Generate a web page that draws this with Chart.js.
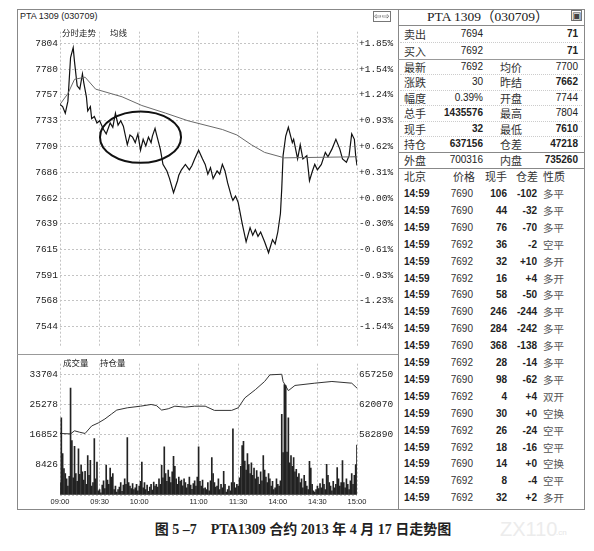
<!DOCTYPE html>
<html>
<head>
<meta charset="utf-8">
<script src="https://cdn.jsdelivr.net/npm/chart.js@4/dist/chart.umd.min.js"></script>
<style>
body{margin:0;background:#fff;width:594px;height:551px;position:relative;overflow:hidden;color:#222;font-family:"Liberation Sans",Arial,sans-serif}
.ln{position:absolute;background:#888}
canvas{position:absolute}
</style>
</head>
<body>
<div class="ln" style="left:17px;top:9px;width:568px;height:1px"></div>
<div class="ln" style="left:17px;top:509px;width:568px;height:1px"></div>
<div class="ln" style="left:17px;top:9px;width:1px;height:501px"></div>
<div class="ln" style="left:584px;top:9px;width:1px;height:501px"></div>
<div class="ln" style="left:398px;top:9px;width:1px;height:501px"></div>
<div class="ln" style="left:17px;top:354px;width:381px;height:1px;background:#999"></div>
<canvas id="pc" width="380" height="330" style="left:18px;top:24px"></canvas>
<canvas id="vc" width="380" height="154" style="left:18px;top:356px"></canvas>
<script>
// axis ticks
const timeLabels = ['09:00', '09:30', '10:00', '11:00', '11:30', '14:00', '14:30', '15:00'];
const timeTickMin = [0, 30, 60, 105, 135, 165, 195, 225];
const gridMin = [0, 30, 60, 105, 135, 195, 225];
const priceTicks = [7804, 7780, 7757, 7733, 7709, 7686, 7662, 7639, 7615, 7591, 7568, 7544];
const pctLabels = ['+1.85%', '+1.54%', '+1.24%', '+0.93%', '+0.62%', '+0.31%', '+0.00%', '-0.30%', '-0.61%', '-0.93%', '-1.23%', '-1.54%'];
const volTicks = [0, 8426, 16852, 25278, 33704];
const volTickLabels = ['', '8426', '16852', '25278', '33704'];
const oiTicks = [582890, 620070, 657250];

// minutes since 09:00 (trading minutes only)
const priceMin = [0, 2, 4, 6, 8, 10, 11, 13, 15, 17, 18, 20, 21, 23, 24, 26, 28, 30, 33, 35, 38, 40, 42, 44, 46, 48, 51, 53, 55, 57, 59, 61, 63, 65, 67, 69, 70, 72, 73, 76, 78, 81, 83, 86, 89, 90, 92, 95, 98, 100, 102, 105, 108, 110, 112, 114, 116, 119, 121, 123, 125, 127, 130, 131, 133, 135, 138, 141, 144, 146, 148, 150, 152, 155, 158, 161, 163, 165, 167, 168, 169, 171, 173, 176, 177, 180, 182, 184, 187, 189, 191, 193, 195, 198, 201, 203, 206, 209, 212, 214, 217, 219, 221, 223, 224, 225];
const price = [7748, 7746, 7740, 7751, 7791, 7800, 7787, 7765, 7762, 7776, 7768, 7755, 7742, 7746, 7735, 7737, 7731, 7733, 7725, 7721, 7731, 7727, 7740, 7729, 7733, 7728, 7711, 7720, 7718, 7713, 7721, 7706, 7716, 7710, 7718, 7713, 7719, 7726, 7721, 7707, 7693, 7687, 7680, 7667, 7678, 7683, 7688, 7693, 7688, 7692, 7698, 7706, 7698, 7693, 7684, 7690, 7680, 7687, 7684, 7693, 7687, 7676, 7663, 7660, 7664, 7658, 7639, 7622, 7635, 7628, 7633, 7627, 7631, 7622, 7612, 7624, 7620, 7631, 7648, 7671, 7701, 7719, 7727, 7713, 7716, 7698, 7711, 7698, 7701, 7678, 7686, 7693, 7688, 7693, 7704, 7700, 7707, 7716, 7707, 7698, 7695, 7701, 7721, 7716, 7701, 7692];
const avgMin = [0, 6, 11, 19, 27, 47, 62, 80, 97, 123, 134, 145, 155, 170, 225];
const avgPrice = [7748, 7758, 7771, 7773, 7762, 7755, 7747, 7740, 7733, 7725, 7720, 7711, 7704, 7699, 7700];

// volume per minute (index = minute)
const volume = [
  3500, 21600, 11600, 7400, 6000, 4500, 2500, 5200, 29900, 15200, 4800, 13600, 6000, 3800, 12900,
  5800, 8400, 6500, 4200, 6600, 3000, 11000, 5500, 9700, 2500, 3500, 15800, 4500, 9200, 1200,
  1500, 600, 2800, 4000, 1800, 8400, 4200, 3000, 7500, 5000, 6000, 1500, 2500, 800, 1500,
  2200, 3500, 1000, 2800, 4500, 3000, 16100, 3500, 2500, 1800, 3200, 1500, 2000, 3000, 1200,
  2500, 3800, 9200, 2000, 3500, 1500, 2800, 1000, 2200, 3000, 1400, 3600, 2500, 3000, 2200,
  4500, 3000, 8300, 4800, 13500, 6000, 3800, 7000, 5000, 3500, 6500, 10800, 8000, 4500, 3000,
  5000, 3800, 4200, 2600, 4500, 3500, 2000, 3000, 5000, 2800, 1600, 3200, 4000, 2500, 5000,
  13500, 3800, 2500, 4200, 1800, 2000, 1500, 3500, 1200, 4000, 10500, 6000, 3500, 2200, 2500,
  4500, 1500, 3000, 2000, 6600, 3000, 800, 1500, 2500, 1200, 3500, 18500, 3500, 2000, 3000,
  2500, 4800, 8000, 13800, 15000, 9500, 7000, 11600, 8500, 6000, 9000, 5500, 7500, 4500, 6800,
  5000, 3000, 6500, 4000, 11000, 7000, 5000, 3500, 6000, 4500, 2500, 3800, 1500, 2000, 4500,
  3000, 2500, 4000, 22600, 11900, 30900, 30600, 12000, 21600, 9000, 11000, 8000, 10500, 6500, 7200,
  5000, 6000, 3500, 4500, 2000, 5500, 3800, 2500, 1500, 9400, 7500, 3000, 1200, 800, 1500,
  2500, 1800, 3200, 2000, 4500, 3000, 1500, 8600, 5500, 3500, 2500, 1200, 3800, 2000, 3000,
  7700, 4500, 2500, 3500, 9600, 3500, 2000, 4500, 3000, 1500, 4000, 6000, 3000, 5500, 8500,
  14000
];
const oiMin = [0, 8, 11, 15, 19, 24, 29, 34, 39, 43, 51, 61, 69, 73, 77, 82, 87, 95, 102, 110, 117, 130, 135, 140, 148, 155, 159, 168, 169, 173, 178, 193, 206, 221, 225];
const oi = [584500, 584000, 587800, 586000, 584500, 593800, 597500, 602400, 608500, 613400, 616200, 618200, 620300, 619000, 613400, 615000, 618200, 617000, 618200, 618200, 613000, 613000, 616200, 628400, 638600, 648700, 656900, 657600, 648700, 637400, 643800, 646600, 648700, 646600, 640500];

// right-hand quote panel
const quoteName1 = ['卖出', '买入', '最新', '涨跌', '幅度', '总手', '现手', '持仓', '外盘'];
const quoteVal1 = ['7694', '7692', '7692', '30', '0.39%', '1435576', '32', '637156', '700316'];
const quoteName2 = ['', '', '均价', '昨结', '开盘', '最高', '最低', '仓差', '内盘'];
const quoteVal2 = ['71', '71', '7700', '7662', '7744', '7804', '7610', '47218', '735260'];
const tradeHead = ['北京', '价格', '现手', '仓差', '性质'];
const tradeTime = Array(19).fill('14:59');
const tradePrice = [7690, 7690, 7690, 7692, 7692, 7692, 7690, 7690, 7690, 7690, 7692, 7690, 7692, 7690, 7692, 7692, 7690, 7692, 7692];
const tradeVol = [106, 44, 76, 36, 32, 16, 58, 246, 284, 368, 28, 98, 4, 30, 26, 18, 14, 8, 32];
const tradeDiff = ['-102', '-32', '-70', '-2', '+10', '+4', '-50', '-244', '-242', '-138', '-14', '-62', '+4', '+0', '-24', '-16', '+0', '-4', '+2'];
const tradeType = ['多平', '多平', '多平', '空平', '多开', '多开', '多平', '多平', '多平', '多平', '多平', '多平', '双开', '空换', '空平', '空平', '空换', '空平', '多开'];

const MONO = '"Liberation Mono", "DejaVu Sans Mono", monospace';
const CJK = '"Noto Sans CJK SC", sans-serif';
const SANS = '"Liberation Sans", Arial, sans-serif';

function put(text, x, y, o = {}) {
  const d = document.createElement('div');
  d.textContent = text;
  d.style.position = 'absolute';
  d.style.whiteSpace = 'nowrap';
  d.style.font = o.font || ('10px ' + SANS);
  d.style.lineHeight = '14px';
  d.style.top = (y - 7) + 'px';
  if (o.align === 'right') d.style.right = (594 - x) + 'px';
  else if (o.align === 'center') { d.style.left = (x - 60) + 'px'; d.style.width = '120px'; d.style.textAlign = 'center'; }
  else d.style.left = x + 'px';
  if (o.color) d.style.color = o.color;
  document.body.appendChild(d);
  return d;
}
function hline(x, y, w, style) {
  const d = document.createElement('div');
  d.style.cssText = `position:absolute;left:${x}px;top:${y}px;width:${w}px;height:0;border-top:${style}`;
  document.body.appendChild(d);
}

// left panel texts
put('PTA 1309 (030709)', 20, 16, { font: '9px ' + SANS });
put('分时走势', 62, 32, { font: '8.5px ' + CJK });
put('均线', 110, 32, { font: '8.5px ' + CJK });
put('成交量', 63, 362, { font: '8.5px ' + CJK });
put('持仓量', 100, 362, { font: '8.5px ' + CJK });
const ic = put('⇦⇨', 373, 16, { font: '9px ' + SANS, color: '#555' });
ic.style.border = '1px solid #777'; ic.style.lineHeight = '9px'; ic.style.top = '11px';

// right panel
put('PTA 1309（030709）', 487, 17, { font: '13.5px "Liberation Serif", ' + CJK, align: 'center' });
const ic2 = put('▣', 571, 15, { font: '10px ' + SANS, color: '#444' });
ic2.style.border = '1px solid #777'; ic2.style.lineHeight = '9px'; ic2.style.top = '10px';
hline(398, 25, 186, '1px solid #888');
const bold1 = ['总手', '现手', '持仓'];
const bold2 = ['', '昨结', '最低', '仓差', '内盘'];
const rowY = [34, 50.5, 66.5, 82, 97.5, 113, 128.5, 144, 160];
quoteName1.forEach((n, i) => {
  const y = rowY[i];
  put(n, 404, y, { font: '11px ' + CJK, color: '#333' });
  put(quoteVal1[i], 483, y, { align: 'right', font: (bold1.includes(n) ? 'bold ' : '') + '10px ' + SANS });
  if (quoteName2[i]) put(quoteName2[i], 500, y, { font: '11px ' + CJK, color: '#333' });
  put(quoteVal2[i], 578, y, { align: 'right', font: (bold2.includes(quoteName2[i]) ? 'bold ' : '') + '10px ' + SANS });
  if (i < rowY.length - 1) {
    const ly = (rowY[i] + rowY[i + 1]) / 2;
    if (i === 1) hline(398, Math.round(ly), 186, '1px solid #999');
    else if (i === 7) hline(398, Math.round(ly), 186, '1px solid #888');
    else hline(400, Math.round(ly), 182, '1px dotted #ccc');
  }
});
hline(398, 168, 186, '1px solid #888');
put(tradeHead[0], 404, 176, { font: '11px ' + CJK, color: '#333' });
put(tradeHead[1], 464, 176, { font: '11px ' + CJK, color: '#333', align: 'center' });
put(tradeHead[2], 496, 176, { font: '11px ' + CJK, color: '#333', align: 'center' });
put(tradeHead[3], 527, 176, { font: '11px ' + CJK, color: '#333', align: 'center' });
put(tradeHead[4], 554, 176, { font: '11px ' + CJK, color: '#333', align: 'center' });
tradeTime.forEach((t, i) => {
  const y = 194 + i * 16.9;
  put(t, 404, y, { font: 'bold 10px ' + SANS });
  put(String(tradePrice[i]), 473, y, { align: 'right', font: '10px ' + SANS, color: '#333' });
  put(String(tradeVol[i]), 507, y, { align: 'right', font: 'bold 10px ' + SANS });
  put(tradeDiff[i], 537, y, { align: 'right', font: 'bold 10px ' + SANS });
  put(tradeType[i], 543, y, { font: '10.5px ' + CJK, color: '#555' });
});

// caption + mark
const cap = put('图 5 –7　PTA1309 合约 2013 年 4 月 17 日走势图', 303, 530, { font: 'bold 14px "Liberation Serif", ' + CJK, align: 'center' });
cap.style.width = '400px'; cap.style.left = '103px';
put('ZX110', 500, 529, { font: '20px ' + SANS, color: '#ececec' });
put('.cn', 556, 533, { font: '8px ' + SANS, color: '#e6e6e6' });

// ellipse drawn around the consolidation, in data units
const ellipseMark = { x: 61, y: 7718, rx: 30.7, ry: 23.6 };
const ellipsePlugin = {
  id: 'ellipse',
  afterDatasetsDraw(chart) {
    const { ctx, scales: { x, y } } = chart;
    const cx = x.getPixelForValue(ellipseMark.x);
    const cy = y.getPixelForValue(ellipseMark.y);
    const rx = x.getPixelForValue(ellipseMark.x + ellipseMark.rx) - cx;
    const ry = cy - y.getPixelForValue(ellipseMark.y + ellipseMark.ry);
    ctx.save();
    ctx.beginPath();
    ctx.ellipse(cx, cy, rx, ry, 0, 0, Math.PI * 2);
    ctx.lineWidth = 2;
    ctx.strokeStyle = '#111';
    ctx.stroke();
    ctx.restore();
  }
};

Chart.defaults.font.family = MONO;
Chart.defaults.font.size = 9.5;
Chart.defaults.color = '#222';

const gridStyle = { color: '#c4c4c4', drawTicks: false };
const dash = { display: false, dash: [2, 2] };
const pxPerPt = 292 / 260;

new Chart(document.getElementById('pc'), {
  type: 'line',
  data: {
    datasets: [
      { data: avgMin.map((m, i) => ({ x: m, y: avgPrice[i] })), borderColor: '#6a6a6a', borderWidth: 1, pointRadius: 0 },
      { data: priceMin.map((m, i) => ({ x: m, y: price[i] })), borderColor: '#111', borderWidth: 1.2, pointRadius: 0 }
    ]
  },
  options: {
    responsive: false, animation: false, devicePixelRatio: 1,
    layout: { padding: { top: 2, bottom: 4, left: 0, right: 0 } },
    plugins: { legend: { display: false }, tooltip: { enabled: false } },
    scales: {
      x: {
        type: 'linear', min: 0, max: 225,
        afterBuildTicks: s => { s.ticks = gridMin.map(v => ({ value: v })); },
        ticks: { display: false }, grid: gridStyle, border: dash,
        afterFit: s => { s.height = 0; }
      },
      y: {
        min: 7544 - 20 / pxPerPt, max: 7804 + 12 / pxPerPt,
        afterBuildTicks: s => { s.ticks = priceTicks.map(v => ({ value: v })); },
        ticks: { padding: 2, callback: v => String(v) },
        grid: gridStyle, border: dash,
        afterFit: s => { s.width = 42; }
      },
      y1: {
        position: 'right', min: 7544 - 20 / pxPerPt, max: 7804 + 12 / pxPerPt,
        afterBuildTicks: s => { s.ticks = priceTicks.map(v => ({ value: v })); },
        ticks: { padding: 2, callback: (v, i) => pctLabels[i] },
        grid: { drawOnChartArea: false, drawTicks: false }, border: { display: false },
        afterFit: s => { s.width = 41; }
      }
    }
  },
  plugins: [ellipsePlugin]
});

const volPerPx = 33704 / 122;
const oiPerPx = (657250 - 582890) / 61;
new Chart(document.getElementById('vc'), {
  type: 'bar',
  data: {
    datasets: [
      { type: 'bar', data: volume.map((v, i) => ({ x: i, y: v })), backgroundColor: '#222', barThickness: 1, yAxisID: 'y' },
      { type: 'line', data: oiMin.map((m, i) => ({ x: m, y: oi[i] })), borderColor: '#333', borderWidth: 1, pointRadius: 0, yAxisID: 'y1' }
    ]
  },
  options: {
    responsive: false, animation: false, devicePixelRatio: 1,
    layout: { padding: { top: 6, bottom: 0, left: 0, right: 0 } },
    plugins: { legend: { display: false }, tooltip: { enabled: false } },
    scales: {
      x: {
        type: 'linear', min: 0, max: 225, offset: false,
        afterBuildTicks: s => { s.ticks = timeTickMin.map(v => ({ value: v })); },
        ticks: { autoSkip: false, maxRotation: 0, padding: 2, font: { family: SANS, size: 7.5 }, callback: (v, i) => timeLabels[i] },
        grid: { offset: false, drawTicks: false, color: c => gridMin.includes(c.tick && c.tick.value) ? '#c4c4c4' : 'rgba(0,0,0,0)' },
        border: dash,
        afterFit: s => { s.height = 15; }
      },
      y: {
        min: 0, max: 33704 + 11 * volPerPx,
        afterBuildTicks: s => { s.ticks = volTicks.map(v => ({ value: v })); },
        ticks: { padding: 2, callback: (v, i) => volTickLabels[i] },
        grid: gridStyle, border: dash,
        afterFit: s => { s.width = 42; }
      },
      y1: {
        position: 'right', min: 657250 - 122 * oiPerPx, max: 657250 + 11 * oiPerPx,
        afterBuildTicks: s => { s.ticks = oiTicks.map(v => ({ value: v })); },
        ticks: { padding: 2, callback: v => String(v) },
        grid: { drawOnChartArea: false, drawTicks: false }, border: { display: false },
        afterFit: s => { s.width = 41; }
      }
    }
  }
});
</script>
</body>
</html>
